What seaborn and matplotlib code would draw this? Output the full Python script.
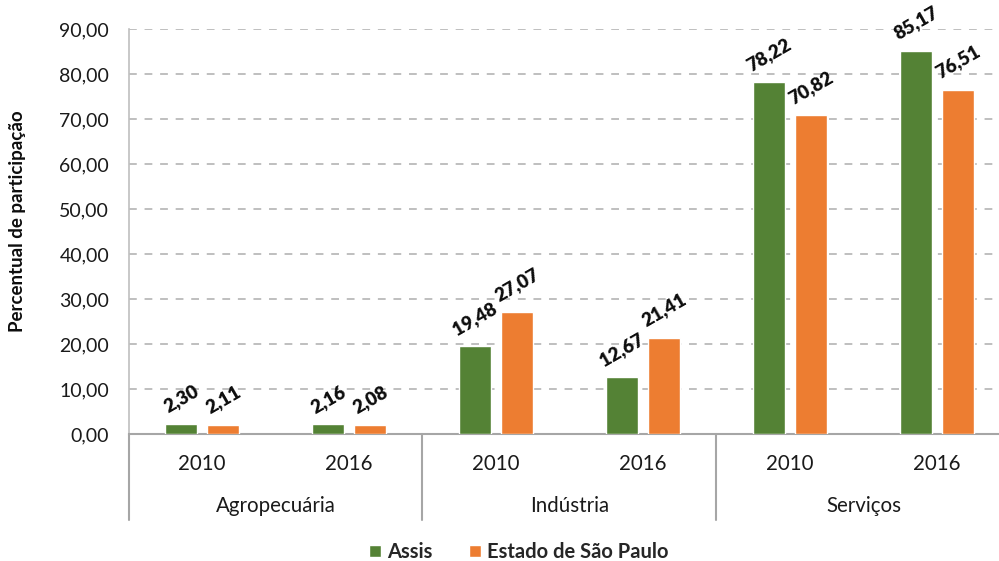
import matplotlib
matplotlib.use("Agg")
import matplotlib.pyplot as plt
from matplotlib.patches import Patch
import seaborn as sns
import pandas as pd

# Sector shares of value added (%) for Assis and the state of São Paulo
sectors = ["Agropecuária", "Indústria", "Serviços"]
years = ["2010", "2016"]
series = ["Assis", "Estado de São Paulo"]
assis = [2.30, 2.16, 19.48, 12.67, 78.22, 85.17]
estado_sp = [2.11, 2.08, 27.07, 21.41, 70.82, 76.51]
y_ticks = [0, 10, 20, 30, 40, 50, 60, 70, 80, 90]

colors = {"Assis": "#548235", "Estado de São Paulo": "#ED7D31"}

slots = [f"{s} {y}" for s in sectors for y in years]
df = pd.DataFrame({
    "slot": slots * 2,
    "serie": [series[0]] * len(slots) + [series[1]] * len(slots),
    "valor": assis + estado_sp,
})

sns.set_theme(style="white")
plt.rcParams["font.family"] = ["Lato", "DejaVu Sans"]

W, H = 999, 561
fig = plt.figure(figsize=(W / 100, H / 100), dpi=100)
left, right, top, bottom = 128.5, 1010.5, 29, 434
ax = fig.add_axes([left / W, 1 - bottom / H, (right - left) / W, (bottom - top) / H])

sns.barplot(data=df, x="slot", y="valor", hue="serie", order=slots,
            hue_order=series, palette=colors, width=0.572, gap=0.217,
            saturation=1, legend=False, ax=ax, zorder=3)

ax.set_xlim(-0.5, len(slots) - 0.5)
ax.set_ylim(0, 90)
ax.set_yticks(y_ticks)
ax.set_yticklabels([f"{t:.2f}".replace(".", ",") for t in y_ticks],
                   fontsize=14, color="#1a1a1a")
ax.tick_params(axis="y", length=0, pad=14)
ax.set_xticks([])
ax.set_xlabel("")
ax.set_ylabel("")

ax.yaxis.grid(True, color="#BFBFBF", linestyle=(0, (4, 4)), linewidth=1.4, zorder=0)
ax.set_axisbelow(True)
for side in ["top", "right"]:
    ax.spines[side].set_visible(False)
ax.spines["left"].set_color("#BFBFBF")
ax.spines["left"].set_linewidth(1.2)
ax.spines["bottom"].set_color("#A6A6A6")
ax.spines["bottom"].set_linewidth(1.5)

# value labels above each bar
for cont in ax.containers:
    for bar in cont:
        v = bar.get_height()
        ax.annotate(f"{v:.2f}".replace(".", ","),
                    (bar.get_x() + bar.get_width() / 2, v),
                    xytext=(0, 6), textcoords="offset points",
                    ha="center", va="bottom", rotation=30,
                    fontsize=13.5, fontweight="heavy", color="#0d0d0d")

# two-level category axis
tr = ax.get_xaxis_transform()
ax_h = bottom - top
for i, slot in enumerate(slots):
    ax.text(i, -30 / ax_h, years[i % 2], transform=tr, ha="center",
            va="center", fontsize=14.8, color="#1a1a1a")
for j, s in enumerate(sectors):
    ax.text(2 * j + 0.5, -72 / ax_h, s, transform=tr, ha="center",
            va="center", fontsize=14.8, color="#1a1a1a")
for xb in [-0.5, 1.5, 3.5, 5.5]:
    ax.plot([xb, xb], [0, -86 / ax_h], transform=tr, color="#A6A6A6",
            linewidth=1.5, clip_on=False)

fig.text(18 / W, 1 - 221 / H, "Percentual de participação", rotation=90,
         ha="center", va="center", fontsize=13.5, fontweight="bold",
         color="#0d0d0d")

handles = [Patch(facecolor=colors[s], label=s) for s in series]
leg = fig.legend(handles=handles, loc="center", bbox_to_anchor=(519 / W, 1 - 552 / H),
                 ncol=2, frameon=False, handlelength=0.6, handleheight=0.6,
                 handletextpad=0.3, columnspacing=1.8,
                 prop={"size": 14.5, "weight": "bold"})

fig.savefig("out.png", dpi=100)
